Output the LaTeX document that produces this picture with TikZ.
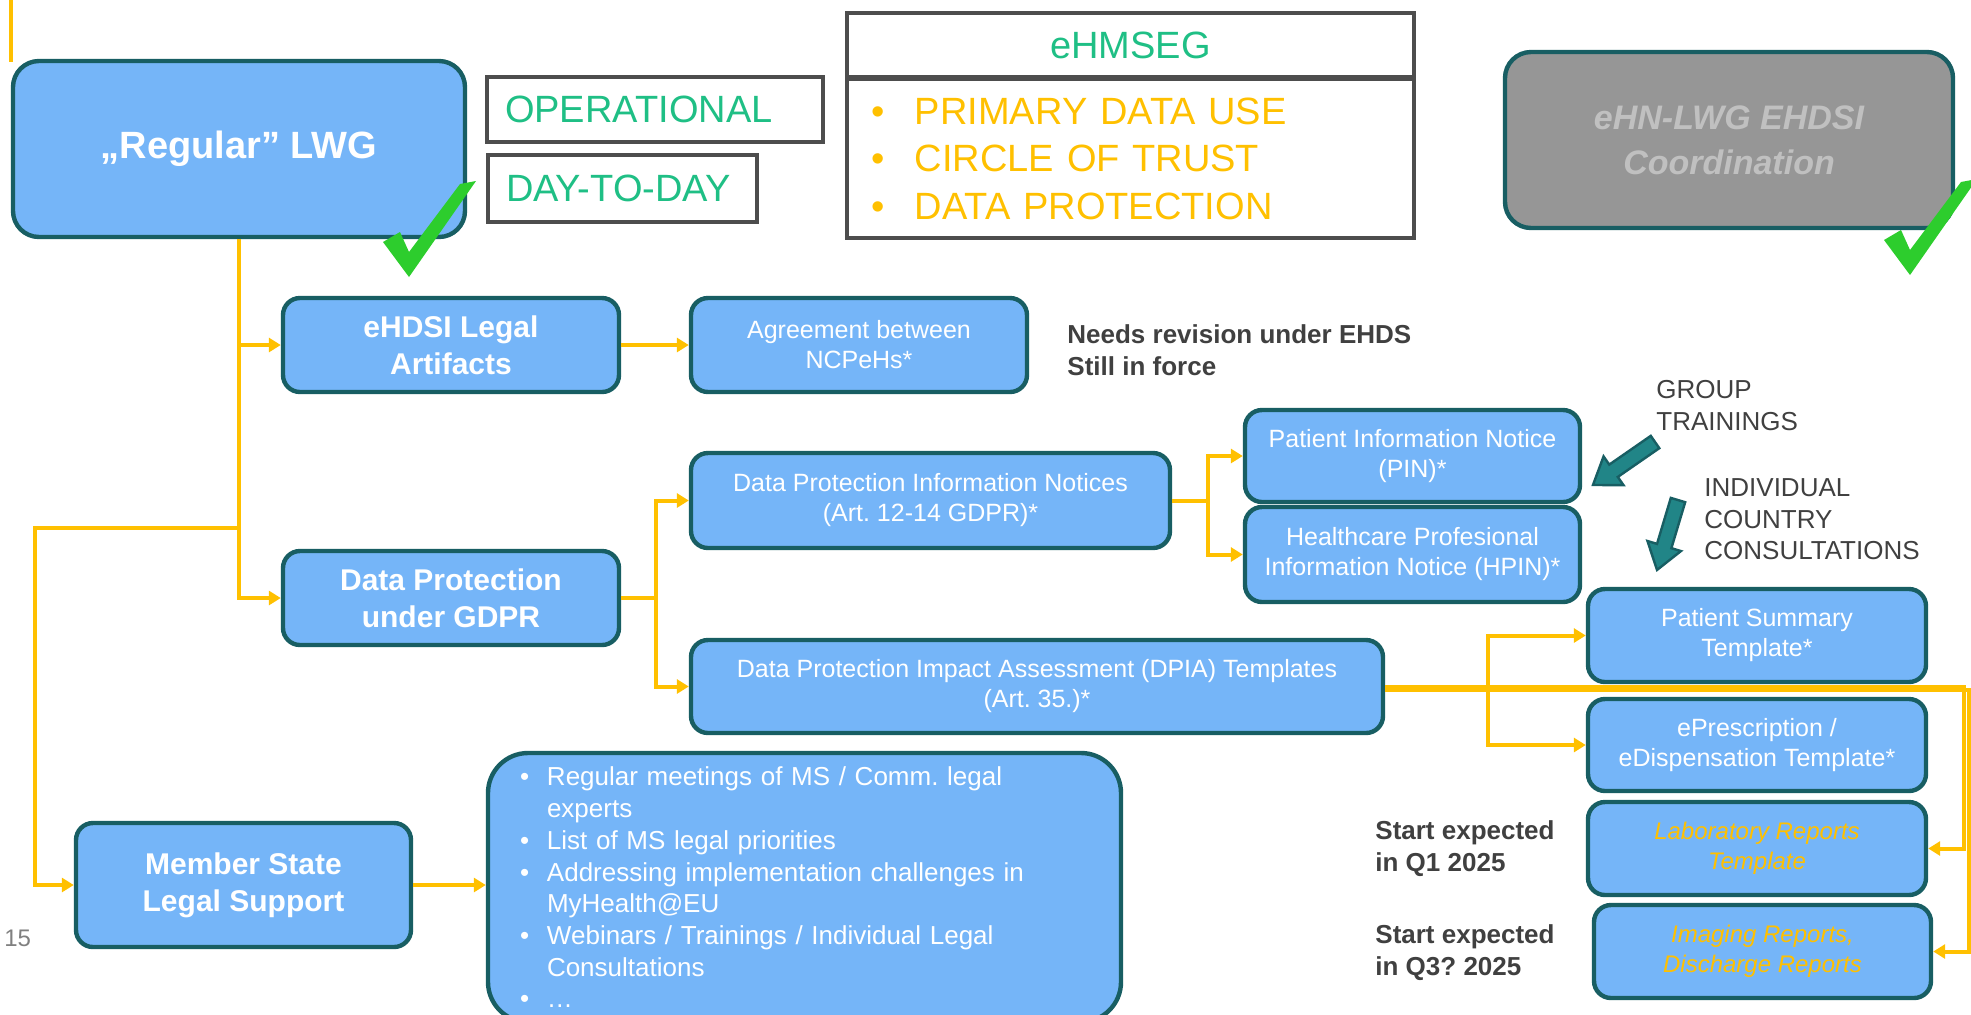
\documentclass[tikz,border=0pt]{standalone}
\usepackage{fontspec}
\setmainfont{Liberation Sans}
\usepackage{xcolor}
\usetikzlibrary{arrows.meta}

\definecolor{boxblue}{RGB}{117,181,248}
\definecolor{boxedge}{RGB}{24,94,99}
\definecolor{feedorange}{RGB}{255,192,0}
\definecolor{taggreen}{RGB}{31,191,133}
\definecolor{tagedge}{RGB}{77,77,77}
\definecolor{graybox}{RGB}{150,150,150}
\definecolor{grayboxtext}{RGB}{192,192,192}
\definecolor{notegray}{RGB}{64,64,64}
\definecolor{blockteal}{RGB}{33,133,135}
\definecolor{checkgreen}{RGB}{45,205,45}

\frenchspacing

\begin{document}
\begin{tikzpicture}[x=0.5pt,y=-0.5pt,
    card/.style={draw=boxedge, line width=2.2pt, fill=boxblue, rounded corners=8.5pt,
      text=white, align=center, inner sep=0pt},
    boldtxt/.style={font=\fontsize{15pt}{18.5pt}\selectfont\bfseries},
    plaintxt/.style={font=\fontsize{12.5pt}{15pt}\selectfont},
    tagbox/.style={draw=tagedge, line width=1.7pt, fill=white, text=taggreen,
      font=\fontsize{19pt}{23pt}\selectfont, inner xsep=9pt, inner ysep=0pt, align=left},
    note/.style={text=notegray, align=left, inner sep=0pt, anchor=west},
    feed/.style={draw=feedorange, line width=2pt, -{Triangle[length=6pt,width=7pt]}},
    blockarrow/.style={draw=boxedge, fill=blockteal, line width=1.2pt, line join=miter}]

      \useasboundingbox (0,0) rectangle (1971,1014);

      \draw[feedorange, line width=2pt] (11,0) -- (11,62);

      % top row
      \node[card, rounded corners=13pt, minimum width=226pt, minimum height=88pt,
        font=\fontsize{19pt}{23pt}\selectfont\bfseries] (lwg) at (239,149) {„Regular” LWG};
      \node[tagbox, minimum width=168pt, minimum height=32.5pt, text width=150pt] (oper) at (655,109.5) {OPERATIONAL};
      \node[tagbox, minimum width=134.5pt, minimum height=33.5pt, text width=116.5pt] (daily) at (622.5,188.5) {DAY-TO-DAY};
      \node[tagbox, align=center, minimum width=283.5pt, minimum height=32pt] (ehmseg) at (1130.5,45) {eHMSEG};
      \node[tagbox, text=feedorange, minimum width=283.5pt, minimum height=79.5pt, inner xsep=12pt, text width=259.5pt,
        font=\fontsize{19pt}{23.75pt}\selectfont] (ehmsegtopics) at (1130.5,158.5)
        {\makebox[22pt][l]{\textbullet}PRIMARY DATA USE\\
         \makebox[22pt][l]{\textbullet}CIRCLE OF TRUST\\
         \makebox[22pt][l]{\textbullet}DATA PROTECTION};
      \node[card, fill=graybox, rounded corners=13pt, minimum width=224pt, minimum height=88pt, text=grayboxtext,
        font=\fontsize{17pt}{22.5pt}\selectfont\bfseries\itshape] (ehn) at (1729,140) {eHN-LWG EHDSI\\Coordination};

      \foreach \dx/\dy in {0/0,1501/-2}
        \fill[checkgreen, shift={(\dx,\dy)}] (383,242) -- (400,232) -- (409,252) -- (460,184) -- (476,181) -- (409,277) -- cycle;

      % legal artifacts
      \node[card, boldtxt, minimum width=168pt, minimum height=47pt] (ehdsi) at (451,345) {eHDSI Legal\\Artifacts};
      \node[card, plaintxt, minimum width=168pt, minimum height=47pt] (agree) at (859,345) {Agreement between\\NCPeHs*};
      \node[note, font=\fontsize{13pt}{16pt}\selectfont\bfseries] (revision) at (1067,350) {Needs revision under EHDS\\Still in force};

      % data protection
      \node[card, boldtxt, minimum width=168pt, minimum height=47pt] (dpgdpr) at (451,598) {Data Protection\\under GDPR};
      \node[card, plaintxt, minimum width=239.5pt, minimum height=47.5pt] (dpin) at (930.5,500.5) {Data Protection Information Notices\\(Art. 12-14 GDPR)*};
      \node[card, plaintxt, minimum width=346pt, minimum height=46.5pt] (dpia) at (1037,686.5) {Data Protection Impact Assessment (DPIA) Templates\\(Art. 35.)*};
      \node[card, plaintxt, minimum width=167.5pt, minimum height=46pt] (pin) at (1412.5,456) {Patient Information Notice\\(PIN)*};
      \node[card, plaintxt, minimum width=167.5pt, minimum height=47.5pt] (hpin) at (1412.5,554.5) {Healthcare Profesional\\Information Notice (HPIN)*};
      \node[card, plaintxt, minimum width=169pt, minimum height=46.5pt] (ps) at (1757,635.5) {Patient Summary\\Template*};
      \node[card, plaintxt, minimum width=169pt, minimum height=46pt] (epres) at (1757,745) {ePrescription /\\eDispensation Template*};
      \node[card, plaintxt, text=feedorange, font=\fontsize{12pt}{15pt}\selectfont\itshape,
        minimum width=169pt, minimum height=46.5pt] (lab) at (1757,848.5) {Laboratory Reports\\Template};
      \node[card, plaintxt, text=feedorange, font=\fontsize{12pt}{15pt}\selectfont\itshape,
        minimum width=168.5pt, minimum height=46.5pt] (img) at (1762.5,951.5) {Imaging Reports,\\Discharge Reports};

      \node[note, font=\fontsize{13pt}{16pt}\selectfont] (group) at (1656,406) {GROUP\\TRAININGS};
      \node[note, font=\fontsize{13pt}{15.75pt}\selectfont] (individual) at (1704,519.5) {INDIVIDUAL\\COUNTRY\\CONSULTATIONS};
      \node[note, font=\fontsize{13pt}{16pt}\selectfont\bfseries] (startqone) at (1375,849) {Start expected\\in Q1 2025};
      \node[note, font=\fontsize{13pt}{16pt}\selectfont\bfseries] (startqthree) at (1375,953) {Start expected\\in Q3? 2025};

      \foreach \cx/\cy/\ang/\len in {1624/463.5/214.7/37.75, 1667.5/535/253.3/36.5}
        \draw[blockarrow, shift={(\cx,\cy)}, rotate=\ang]
          (-\len,-7.5) -- (\len-25,-7.5) -- (\len-25,-17.5) -- (\len,0) -- (\len-25,17.5) -- (\len-25,7.5) -- (-\len,7.5) -- cycle;

      % member state support
      \node[card, boldtxt, minimum width=167.5pt, minimum height=62pt] (ms) at (243.5,885) {Member State\\Legal Support};
      \node[card, rounded corners=20pt, minimum width=316.5pt, minimum height=134.5pt, inner xsep=16pt, text width=284.5pt,
        align=left, font=\fontsize{13pt}{15.85pt}\selectfont] (msbul) at (804.5,887.5)
        {\makebox[13.5pt][l]{\textbullet}Regular meetings of MS / Comm. legal\\
         \hspace*{13.5pt}experts\\
         \makebox[13.5pt][l]{\textbullet}List of MS legal priorities\\
         \makebox[13.5pt][l]{\textbullet}Addressing implementation challenges in\\
         \hspace*{13.5pt}MyHealth@EU\\
         \makebox[13.5pt][l]{\textbullet}Webinars / Trainings / Individual Legal\\
         \hspace*{13.5pt}Consultations\\
         \makebox[13.5pt][l]{\textbullet}…};
      \node[note, text=gray, font=\fontsize{12pt}{14pt}\selectfont] (pagenum) at (4,938) {15};

      % connectors
      \coordinate (msbend) at (35,528);
      \draw[feed] (lwg.south) |- (ehdsi.west);
      \draw[feed] (lwg.south) |- (dpgdpr.west);
      \draw[feed] (lwg.south) |- (msbend) |- (ms.west);
      \draw[feed] (ehdsi.east) -- (agree.west);
      \draw[feed] (dpgdpr.east) -- ++(35,0) |- (dpin.west);
      \draw[feed] (dpgdpr.east) -- ++(35,0) |- (dpia.west);
      \draw[feed] (dpin.east) -- ++(36,0) |- (pin.west);
      \draw[feed] (dpin.east) -- ++(36,0) |- (hpin.west);
      \draw[feed] (dpia.east) -- ++(103,0) |- (ps.west);
      \draw[feed] (dpia.east) -- ++(103,0) |- (epres.west);
      \draw[feed] (dpia.east) -- ++(579,0) |- (lab.east);
      \draw[feed] ([yshift=-1.5pt]dpia.east) -- ++(584,0) |- (img.east);
      \draw[feed] (ms.east) -- (ms.east -| msbul.west);
    \end{tikzpicture}
\end{document}
